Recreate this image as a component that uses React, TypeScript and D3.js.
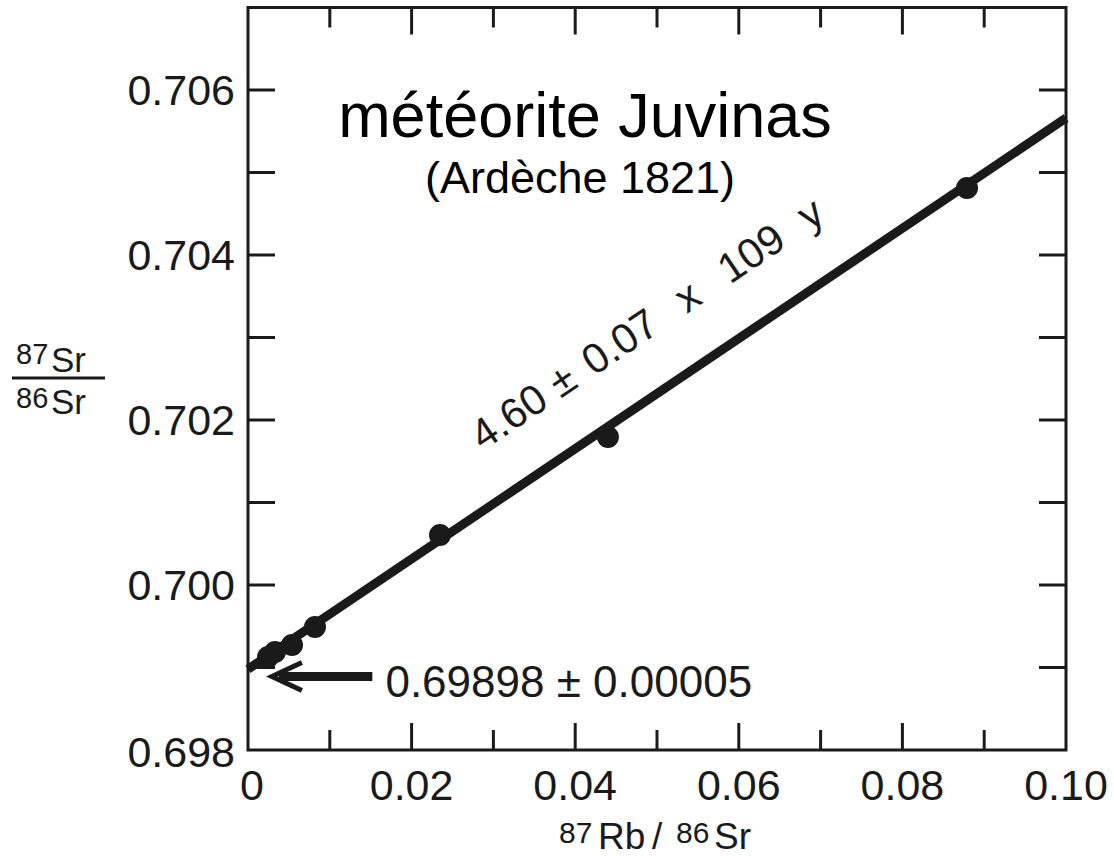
import React from "react";
import * as d3 from "d3";

// ---- data ----
const rbSr = [0.00245, 0.0033, 0.00538, 0.00819, 0.02347, 0.044, 0.0879];
const srSr = [0.699127, 0.699188, 0.699273, 0.699491, 0.700606, 0.701794, 0.704812];
const xTickValues = [0, 0.02, 0.04, 0.06, 0.08, 0.1];
const xTickLabels = ["0", "0.02", "0.04", "0.06", "0.08", "0.10"];
const yTickValues = [0.698, 0.7, 0.702, 0.704, 0.706];
const yTickLabels = ["0.698", "0.700", "0.702", "0.704", "0.706"];
const intercept = 0.69898;
const slope = 0.0668;
const titleMain = "météorite Juvinas";
const titleSub = "(Ardèche 1821)";
const interceptLabel = "0.69898 ± 0.00005";
const ageParts = ["4.60", "±", "0.07", "x", "109", "y"];

const W = 1114;
const H = 856;
const FONT = "'Liberation Sans', Arial, sans-serif";
const INK = "#1a1a1a";

export default function App() {
  const x = d3.scaleLinear().domain([0, 0.1]).range([248, 1066]);
  const y = d3.scaleLinear().domain([0.698, 0.707]).range([750, 7.5]);
  const [x0, x1] = x.range();
  const [yb, yt] = y.range();

  const minorX = d3.range(0, 0.1001, 0.01);
  const minorY = d3.range(0.698, 0.7071, 0.001);

  const lineGen = d3
    .line<number>()
    .x((d) => x(d))
    .y((d) => y(intercept + slope * d));
  const lineXs = [0, 0.1];

  const angle =
    (Math.atan2(y(intercept + slope * 0.1) - y(intercept), x(0.1) - x(0)) * 180) / Math.PI;

  const ageAnchor = [0.0287, 0.70162];
  const ageOffsets = [0, 94, 134, 246, 298, 394];

  const arrowTip = [0.0028, 0.69889];
  const arrowTail = [0.0152, 0.69889];
  const tipX = x(arrowTip[0]);
  const tipY = y(arrowTip[1]);

  return (
    <svg
      width={W}
      height={H}
      style={{ position: "absolute", left: 0, top: 0, background: "#fff" }}
      fontFamily={FONT}
    >
      {/* frame */}
      <rect x={x0} y={yt} width={x1 - x0} height={yb - yt} fill="none" stroke={INK} strokeWidth={3} />

      {/* x ticks bottom & top */}
      {minorX.map((v, i) => {
        const major = i % 2 === 0;
        const len = major ? 27 : 20;
        if (i === 0 || i === minorX.length - 1) return null;
        return (
          <g key={"xt" + i} stroke={INK} strokeWidth={3}>
            <line x1={x(v)} x2={x(v)} y1={yb} y2={yb - len} />
            <line x1={x(v)} x2={x(v)} y1={yt} y2={yt + len} />
          </g>
        );
      })}
      {/* y ticks left & right */}
      {minorY.map((v, i) => {
        if (i === 0) return null;
        return (
          <g key={"yt" + i} stroke={INK} strokeWidth={3}>
            <line x1={x0} x2={x0 + 27} y1={y(v)} y2={y(v)} />
            <line x1={x1} x2={x1 - 27} y1={y(v)} y2={y(v)} />
          </g>
        );
      })}

      {/* tick labels */}
      {xTickValues.map((v, i) => (
        <text key={"xl" + i} x={x(v) + (i === 0 ? 4 : 0)} y={800} fontSize={43} textAnchor="middle" fill={INK}>
          {xTickLabels[i]}
        </text>
      ))}
      {yTickValues.map((v, i) => (
        <text
          key={"yl" + i}
          x={235}
          y={y(v) + (i === 0 ? 17 : 15)}
          fontSize={43}
          textAnchor="end"
          fill={INK}
        >
          {yTickLabels[i]}
        </text>
      ))}

      {/* axis titles */}
      <g fill={INK}>
        <text x={559} y={843} fontSize={30}>87</text>
        <text x={598} y={849} fontSize={37}>Rb</text>
        <text x={652} y={849} fontSize={37}>/</text>
        <text x={676} y={843} fontSize={30}>86</text>
        <text x={714} y={849} fontSize={37}>Sr</text>
      </g>
      <g fill={INK}>
        <text x={16} y={364} fontSize={29}>87</text>
        <text x={51} y={372} fontSize={35}>Sr</text>
        <line x1={12} x2={105} y1={378} y2={378} stroke={INK} strokeWidth={3} />
        <text x={16} y={408} fontSize={29}>86</text>
        <text x={51} y={414} fontSize={35}>Sr</text>
      </g>

      {/* isochron line */}
      <path d={lineGen(lineXs) || ""} stroke={INK} strokeWidth={9} fill="none" />

      {/* points */}
      {rbSr.map((v, i) => (
        <circle key={"p" + i} cx={x(v)} cy={y(srSr[i])} r={11} fill={INK} />
      ))}

      {/* age label along the line */}
      <g transform={`translate(${x(ageAnchor[0])},${y(ageAnchor[1])}) rotate(${angle})`}>
        <text fontSize={42} fill={INK}>
          {ageParts.map((t, i) => (
            <tspan key={"a" + i} x={ageOffsets[i]} y={0}>
              {t}
            </tspan>
          ))}
        </text>
      </g>

      {/* intercept arrow */}
      <line x1={x(arrowTail[0])} x2={tipX + 8} y1={tipY} y2={tipY} stroke={INK} strokeWidth={9} />
      <path
        d={`M${tipX + 31},${tipY - 14} L${tipX + 1},${tipY} L${tipX + 31},${tipY + 14}`}
        stroke={INK}
        strokeWidth={5}
        fill="none"
        strokeLinejoin="miter"
      />
      <text x={x(0.0168)} y={y(0.69898) + 28} fontSize={44} fill={INK}>
        {interceptLabel}
      </text>

      {/* titles */}
      <text x={585} y={137} fontSize={63} textAnchor="middle" fill="#000">
        {titleMain}
      </text>
      <text x={580} y={193} fontSize={45} textAnchor="middle" fill="#000">
        {titleSub}
      </text>
    </svg>
  );
}
